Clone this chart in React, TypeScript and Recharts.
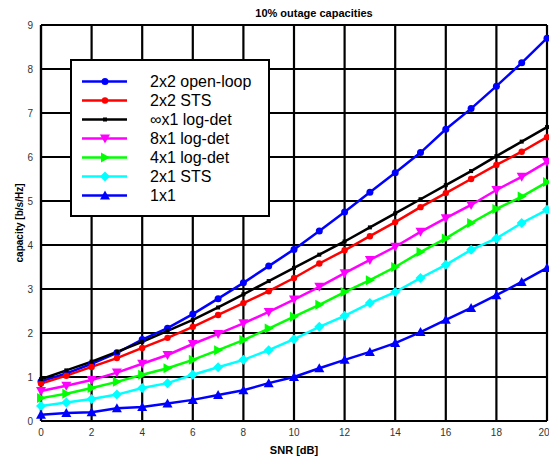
import React from "react";
import { LineChart, Line, XAxis, YAxis, CartesianGrid, Legend } from "recharts";

// SNR in dB
const snr = [0, 1, 2, 3, 4, 5, 6, 7, 8, 9, 10, 11, 12, 13, 14, 15, 16, 17, 18, 19, 20];

// capacities [b/s/Hz]
const openLoop2x2 = [0.9, 1.08, 1.3, 1.55, 1.85, 2.11, 2.43, 2.78, 3.14, 3.52, 3.9, 4.32, 4.75, 5.2, 5.64, 6.1, 6.63, 7.1, 7.61, 8.14, 8.7];
const sts2x2 = [0.85, 1.03, 1.23, 1.43, 1.66, 1.89, 2.14, 2.41, 2.68, 2.95, 3.25, 3.58, 3.88, 4.2, 4.52, 4.86, 5.18, 5.5, 5.82, 6.12, 6.45];
const infLogDet = [0.95, 1.15, 1.35, 1.57, 1.8, 2.05, 2.3, 2.58, 2.88, 3.18, 3.48, 3.78, 4.08, 4.4, 4.72, 5.04, 5.36, 5.68, 6.02, 6.35, 6.68];
const logDet8x1 = [0.68, 0.8, 0.93, 1.1, 1.3, 1.5, 1.75, 1.98, 2.22, 2.48, 2.76, 3.05, 3.36, 3.66, 3.96, 4.3, 4.61, 4.91, 5.25, 5.55, 5.89];
const logDet4x1 = [0.52, 0.62, 0.75, 0.89, 1.05, 1.2, 1.39, 1.61, 1.84, 2.1, 2.37, 2.64, 2.93, 3.2, 3.5, 3.84, 4.15, 4.5, 4.82, 5.1, 5.43];
const sts2x1 = [0.34, 0.42, 0.5, 0.6, 0.75, 0.86, 1.05, 1.22, 1.39, 1.61, 1.86, 2.14, 2.39, 2.68, 2.93, 3.25, 3.55, 3.89, 4.15, 4.5, 4.8];
const siso1x1 = [0.14, 0.18, 0.2, 0.29, 0.32, 0.4, 0.48, 0.59, 0.7, 0.86, 1.0, 1.2, 1.39, 1.57, 1.77, 2.02, 2.3, 2.57, 2.86, 3.16, 3.48];

const xTicks = [0, 2, 4, 6, 8, 10, 12, 14, 16, 18, 20];
const yTicks = [0, 1, 2, 3, 4, 5, 6, 7, 8, 9];

const series = [
  { key: "ol22", name: "2x2 open-loop", color: "#0000ff", shape: "circle", values: openLoop2x2 },
  { key: "sts22", name: "2x2 STS", color: "#ff0000", shape: "dot", values: sts2x2 },
  { key: "inf", name: "\u221Ex1 log-det", color: "#000000", shape: "square", values: infLogDet },
  { key: "ld8", name: "8x1 log-det", color: "#ff00ff", shape: "triDown", values: logDet8x1 },
  { key: "ld4", name: "4x1 log-det", color: "#00ff00", shape: "triRight", values: logDet4x1 },
  { key: "sts21", name: "2x1 STS", color: "#00ffff", shape: "diamond", values: sts2x1 },
  { key: "siso", name: "1x1", color: "#0000ff", shape: "triUp", values: siso1x1 },
];

const data = snr.map((s, i) => {
  const row: any = { snr: s };
  series.forEach((sr) => {
    row[sr.key] = sr.values[i];
  });
  return row;
});

const font = "'Liberation Sans', Arial, sans-serif";

const marker = (shape: string, cx: number, cy: number, color: string, key?: any) => {
  switch (shape) {
    case "circle":
      return <circle key={key} cx={cx} cy={cy} r={3.5} fill={color} />;
    case "dot":
      return <circle key={key} cx={cx} cy={cy} r={3.2} fill={color} />;
    case "square":
      return <rect key={key} x={cx - 2} y={cy - 2} width={4} height={4} fill={color} />;
    case "triDown":
      return <polygon key={key} points={`${cx - 5},${cy - 4} ${cx + 5},${cy - 4} ${cx},${cy + 5}`} fill={color} />;
    case "triRight":
      return <polygon key={key} points={`${cx - 4},${cy - 5} ${cx - 4},${cy + 5} ${cx + 5},${cy}`} fill={color} />;
    case "diamond":
      return <polygon key={key} points={`${cx},${cy - 5} ${cx + 5},${cy} ${cx},${cy + 5} ${cx - 5},${cy}`} fill={color} />;
    case "triUp":
      return <polygon key={key} points={`${cx - 5},${cy + 4} ${cx + 5},${cy + 4} ${cx},${cy - 5}`} fill={color} />;
    default:
      return null;
  }
};

const LegendBox = () => (
  <div
    style={{
      background: "#fff",
      border: "2px solid #000",
      width: 196,
      padding: "11px 0 10px 0",
      fontFamily: font,
      fontSize: 16,
      color: "#000",
    }}
  >
    {series.map((s) => (
      <div key={s.key} style={{ display: "flex", alignItems: "center", height: 19 }}>
        <svg width={78} height={19} style={{ flex: "none" }}>
          <line x1={10} y1={9.5} x2={55} y2={9.5} stroke={s.color} strokeWidth={2.5} />
          {marker(s.shape, 33, 9.5, s.color)}
        </svg>
        <span style={{ lineHeight: "19px" }}>{s.name}</span>
      </div>
    ))}
  </div>
);

export default function App() {
  return (
    <div style={{ position: "absolute", left: 0, top: 0, width: 549, height: 458, background: "#fff" }}>
      <div
        style={{
          position: "absolute",
          left: 0,
          width: 628,
          top: 7,
          textAlign: "center",
          fontFamily: font,
          fontWeight: "bold",
          fontSize: 11,
          color: "#000",
        }}
      >
        10% outage capacities
      </div>
      <LineChart width={549} height={458} data={data} margin={{ top: 25, right: 2, bottom: 0, left: 0 }}>
        <CartesianGrid stroke="#000" strokeWidth={2.2} />
        <XAxis
          dataKey="snr"
          type="number"
          domain={[0, 20]}
          ticks={xTicks}
          height={37}
          tickLine={false}
          axisLine={{ stroke: "#000", strokeWidth: 2.2 }}
          tick={{ fill: "#333", fontSize: 10, fontFamily: font }}
          label={{
            value: "SNR [dB]",
            position: "insideBottom",
            offset: 4,
            style: { fill: "#000", fontSize: 11, fontWeight: "bold", fontFamily: font },
          }}
        />
        <YAxis
          type="number"
          domain={[0, 9]}
          ticks={yTicks}
          width={41}
          tickLine={false}
          axisLine={{ stroke: "#000", strokeWidth: 2.2 }}
          tick={{ fill: "#333", fontSize: 10, fontFamily: font }}
          label={{
            value: "capacity [b/s/Hz]",
            angle: -90,
            position: "insideLeft",
            offset: 19,
            style: { textAnchor: "middle", fill: "#000", fontSize: 10, fontWeight: "bold", fontFamily: font },
          }}
        />
        <Legend
          layout="vertical"
          align="center"
          verticalAlign="middle"
          content={() => <LegendBox />}
          wrapperStyle={{ left: 70, top: 59, width: 200 }}
        />
        {series.map((s) => (
          <Line
            key={s.key}
            dataKey={s.key}
            name={s.name}
            stroke={s.color}
            strokeWidth={2.5}
            isAnimationActive={false}
            dot={(p: any) => marker(s.shape, p.cx, p.cy, s.color, `${s.key}-${p.index}`)}
            activeDot={false}
          />
        ))}
      </LineChart>
    </div>
  );
}
